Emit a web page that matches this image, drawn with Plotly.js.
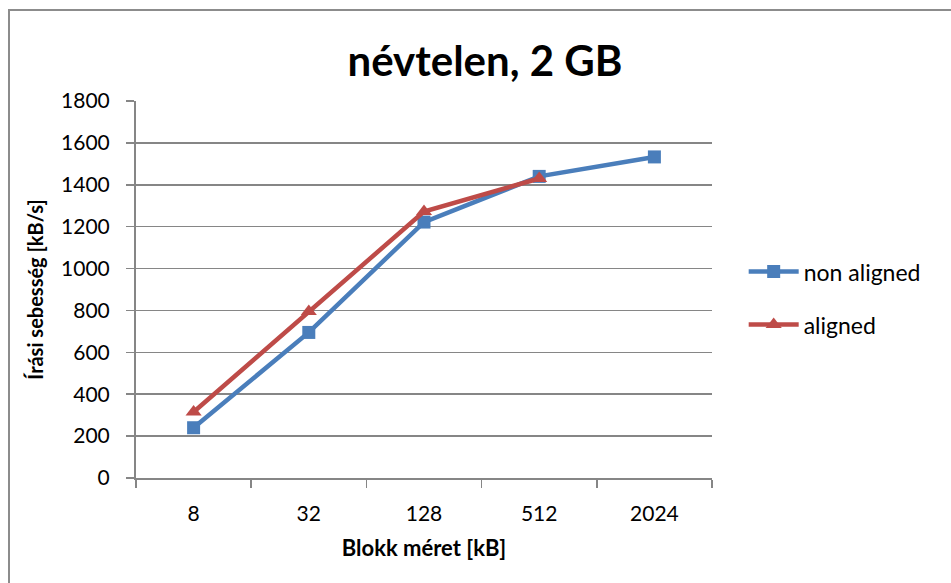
<!DOCTYPE html>
<html>
<head>
<meta charset="utf-8">
<script src="https://cdn.plot.ly/plotly-3.0.1.min.js"></script>
<style>
html,body{margin:0;padding:0;background:#fff;}
#wrap{position:relative;width:951px;height:583px;overflow:hidden;}
#frame{position:absolute;left:8px;top:9px;width:960px;height:600px;border:2px solid #8c8c8c;box-sizing:border-box;pointer-events:none;}
#chart{position:absolute;left:0;top:0;width:951px;height:583px;}
</style>
</head>
<body>
<div id="wrap">
<div id="chart"></div>
<div id="frame"></div>
</div>
<script>
var categories = ['8', '32', '128', '512', '2024'];
var nonAligned = [240, 695, 1222, 1440, 1533];
var aligned = [315, 795, 1272, 1430];
var seriesNames = ['non aligned', 'aligned'];
var yTicks = [0, 200, 400, 600, 800, 1000, 1200, 1400, 1600, 1800];

var font = 'Lato, "Open Sans", "Liberation Sans", sans-serif';

var traces = [
  {
    x: categories, y: nonAligned, name: seriesNames[0], type: 'scatter', mode: 'lines+markers',
    legendgroup: 'g1',
    line: {color: '#4A7EBB', width: 4.5},
    marker: {symbol: 'square', size: 13, color: '#4A7EBB'}
  },
  {
    x: categories.slice(0, aligned.length), y: aligned, name: seriesNames[1], type: 'scatter', mode: 'lines+markers',
    legendgroup: 'g2',
    line: {color: '#BE4B48', width: 4.5},
    marker: {symbol: 'triangle-up', size: 14, color: '#BE4B48'}
  }
];

var layout = {
  width: 951, height: 583,
  margin: {l: 136, r: 239, t: 101, b: 105},
  paper_bgcolor: 'rgba(0,0,0,0)', plot_bgcolor: '#fff',
  font: {family: font, size: 21, color: '#000'},
  title: {text: '<b>névtelen, 2 GB</b>', font: {family: font, size: 42, color: '#000'}, x: 0.51, xanchor: 'center', y: 0.894, yanchor: 'middle'},
  xaxis: {
    type: 'category', categoryorder: 'array', categoryarray: categories,
    range: [-0.5, 4.5],
    showline: true, linecolor: '#868686', linewidth: 2,
    showgrid: false, zeroline: false,
    ticks: 'outside', ticklen: 8, tickcolor: '#868686', tickwidth: 1.5,
    tickson: 'boundaries', ticklabelstandoff: 16,
    tickfont: {family: font, size: 21},
    title: {text: '<b>Blokk méret [kB]</b>', font: {family: font, size: 22}, standoff: 16}
  },
  yaxis: {
    range: [0, 1800], tickvals: yTicks, ticktext: yTicks.map(String),
    showline: true, linecolor: '#868686', linewidth: 2,
    showgrid: true, gridcolor: '#868686', gridwidth: 1.5, zeroline: false,
    ticks: 'outside', ticklen: 8, tickcolor: '#868686', tickwidth: 1.5,
    ticklabelstandoff: 12,
    tickfont: {family: font, size: 21},
    title: {text: '<b>Írási sebesség [kB/s]</b>', font: {family: font, size: 20}, standoff: 12}
  },
  showlegend: true,
  legend: {x: 1.055, y: 0.477, xanchor: 'left', yanchor: 'middle', font: {family: font, size: 23}, tracegroupgap: 20, itemwidth: 50, bgcolor: 'rgba(0,0,0,0)'}
};

Plotly.newPlot('chart', traces, layout, {displayModeBar: false, staticPlot: true});
</script>
</body>
</html>
